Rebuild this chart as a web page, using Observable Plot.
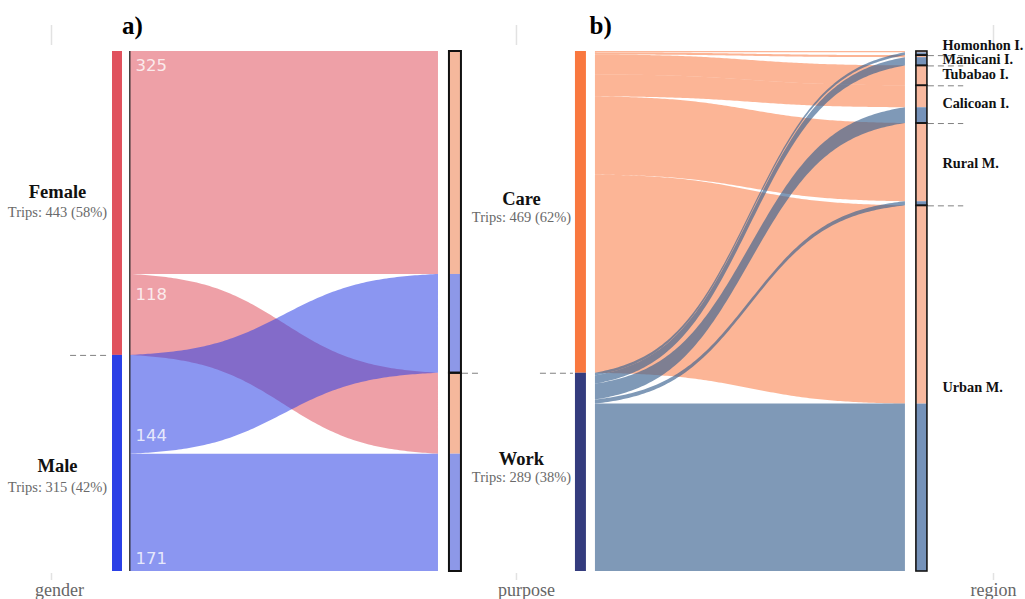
<!DOCTYPE html>
<html>
<head>
<meta charset="utf-8">
<script src="https://cdn.jsdelivr.net/npm/d3@7"></script>
<script src="https://cdn.jsdelivr.net/npm/@observablehq/plot@0.6"></script>
<style>
  html, body { margin: 0; padding: 0; background: #fff; }
  #chart svg { display: block; }
</style>
</head>
<body>
<div id="chart"></div>
<script>
// ---------------- DATA ----------------
const panelTitles = ["a)", "b)"];
const axisNames = ["gender", "purpose", "region"];
const genders = ["Female", "Male"];
const purposes = ["Care", "Work"];
const regions = ["Homonhon I.", "Manicani I.", "Tubabao I.", "Calicoan I.", "Rural M.", "Urban M."];
// trips by gender and purpose (Care, Work)
const femaleTrips = [325, 118];
const maleTrips = [144, 171];
// trips by purpose to each region
const careRegionTrips = [2, 3, 29, 32, 114, 289];
const workRegionTrips = [4, 12, 0, 23, 6, 244];

// ---------------- LAYOUT (stage units: gender axis = 0, purpose axis = 1) ----------------
const W = 1025, H = 599, MT = 51, MB = 28, ML = 51, MR = 32;
const stage = {gender: 0, purpose: 1, region: 2.026};
const L = {
  genderBar: [0.1312, 0.1527],
  edgeLineA: 0.1684,
  flowsA: [0.1699, 0.8323],
  purposeBarA: [0.8559, 0.8817],
  purposeBarB: [1.1269, 1.1505],
  flowsB: [1.1699, 1.8366],
  regionBar: [1.8602, 1.8839],
  genderLabelX: 0.0129,
  purposeLabelX: 1.0108,
  regionLabelX: 1.9161,
  flowNumX: 0.1806,
  titleX: [0.174, 1.181],
  axisNameX: [0.0172, 1.0215, 2.026]
};

function sankey(leftNames, rightNames, matrix) {
  let acc = 0;
  const left = leftNames.map((name, i) => {
    const total = d3.sum(matrix[i]);
    const n = {name, i, total, y0: acc, y1: acc + total};
    acc += total; return n;
  });
  acc = 0;
  const right = rightNames.map((name, j) => {
    const total = d3.sum(matrix, r => r[j]);
    const n = {name, j, total, y0: acc, y1: acc + total};
    acc += total; return n;
  });
  const lc = left.map(d => d.y0), rc = right.map(d => d.y0);
  const flows = [];
  matrix.forEach((row, i) => row.forEach((v, j) => {
    const f = {i, j, value: v, ly0: lc[i], ly1: lc[i] + v, ry0: rc[j], ry1: rc[j] + v};
    lc[i] += v; rc[j] += v;
    flows.push(f);
  }));
  return {left, right, flows, total: acc};
}

const k = 7.5;
const sig = t => 1 / (1 + Math.exp(-k * (t - 0.5)));
const ease = t => (sig(t) - sig(0)) / (sig(1) - sig(0));

function ribbons(flows, xa, xb, filter) {
  const pts = [];
  const N = 120;
  flows.filter(f => f.value > 0 && filter(f)).forEach(f => {
    for (let s = 0; s <= N; s++) {
      const t = s / N, e = ease(t);
      pts.push({
        id: `${f.i}-${f.j}`,
        x: xa + (xb - xa) * t,
        y1: f.ly0 + (f.ry0 - f.ly0) * e,
        y2: f.ly1 + (f.ry1 - f.ly1) * e
      });
    }
  });
  return pts;
}

const A = sankey(genders, purposes, [femaleTrips, maleTrips]);
const B = sankey(purposes, regions, [careRegionTrips, workRegionTrips]);
const grand = A.total;
const px = v => v * grand / (H - MT - MB); // pixel offset -> y units

const genderColors = ["#e0525e", "#2b40e6"];
const purposeSegColorsA = ["#f5b89c", "#8d98e8"];
const purposeColorsB = ["#f9783f", "#343c7e"];
const regionSegColors = ["#f8b99f", "#7592b9"];
const careFlow = "#f9783f", workFlow = "#3a6291";

const serif = "Liberation Serif, Times New Roman, serif";

const genderDy = [[-11, 9], [3, 24]];
const purposeDy = [[-13, 5], [-13, 5]];
const flowNumDy = [14, 20, -18, -13];

const pct = v => `Trips: ${v} (${Math.round(v / grand * 100)}%)`;

const span = (arr, xs, ya, yb, color) => arr.map((d, i) => ({x1: xs[0], x2: xs[1], y1: d[ya], y2: d[yb], color: color ? color(d, i) : null}));

const genderRects = span(A.left, L.genderBar, "y0", "y1", (d, i) => genderColors[i]);
const purposeSegA = span(A.flows, L.purposeBarA, "ry0", "ry1", d => purposeSegColorsA[d.i]);
const purposeBoxA = span(A.right, L.purposeBarA, "y0", "y1");
const purposeRectsB = span(B.left, L.purposeBarB, "y0", "y1", (d, i) => purposeColorsB[i]);
const regionSeg = span(B.flows.filter(f => f.value > 0), L.regionBar, "ry0", "ry1", d => regionSegColors[d.i]);
const regionBox = span(B.right, L.regionBar, "y0", "y1");

const dashes = [
  {y: A.left[0].y1, x1: 0.041, x2: 0.127},
  {y: A.right[0].y1, x1: 0.8839, x2: 0.9269},
  {y: B.left[0].y1, x1: 1.0516, x2: 1.1226},
  ...B.right.slice(0, -1).map(d => ({y: d.y1, x1: 1.886, x2: 1.962}))
];

const flowNums = A.flows.map((f, idx) => ({
  x: L.flowNumX, text: String(f.value), y: (f.i === 0 ? f.ly0 : f.ly1) + px(flowNumDy[idx])
}));

const mid = n => (n.y0 + n.y1) / 2;
const nodeHeads = [
  ...A.left.map((n, i) => ({x: L.genderLabelX, y: mid(n) + px(genderDy[i][0]), text: n.name})),
  ...B.left.map((n, i) => ({x: L.purposeLabelX, y: mid(n) + px(purposeDy[i][0]), text: n.name}))
];
const nodeSubs = [
  ...A.left.map((n, i) => ({x: L.genderLabelX, y: mid(n) + px(genderDy[i][1]), text: pct(n.total)})),
  ...B.left.map((n, i) => ({x: L.purposeLabelX, y: mid(n) + px(purposeDy[i][1]), text: pct(n.total)}))
];
const regionLabels = B.right.map((n, i) => ({x: L.regionLabelX, y: mid(n) + px(i === 0 ? -8 : -1), text: n.name}));
const titles = panelTitles.map((t, i) => ({x: L.titleX[i], text: t}));
const axisLabels = axisNames.map((t, i) => ({x: L.axisNameX[i], text: t}));
const tickXs = [stage.gender, stage.purpose, stage.region];
const ticksTop = tickXs.map(x => ({x, y1: px(-26), y2: px(-6)}));
const ticksBot = tickXs.map(x => ({x, y1: grand + px(2), y2: grand + px(9)}));
const edgeLine = [{x: L.edgeLineA, y1: 0, y2: grand}];

const plot = Plot.plot({
  width: W,
  height: H,
  marginLeft: ML,
  marginRight: MR,
  marginTop: MT,
  marginBottom: MB,
  x: {domain: [0, stage.region], axis: null},
  y: {domain: [0, grand], reverse: true, axis: null},
  color: {type: "identity"},
  style: {background: "#fff", overflow: "visible"},
  marks: [
    Plot.ruleX(ticksTop, {x: "x", y1: "y1", y2: "y2", stroke: "#e2e2e2", strokeWidth: 1.5}),
    Plot.ruleX(ticksBot, {x: "x", y1: "y1", y2: "y2", stroke: "#e2e2e2", strokeWidth: 1.5}),

    // panel a flows
    Plot.areaY(ribbons(A.flows, L.flowsA[0], L.flowsA[1], f => f.i === 0),
      {x: "x", y1: "y1", y2: "y2", z: "id", fill: genderColors[0], fillOpacity: 0.55, curve: "linear"}),
    Plot.areaY(ribbons(A.flows, L.flowsA[0], L.flowsA[1], f => f.i === 1),
      {x: "x", y1: "y1", y2: "y2", z: "id", fill: genderColors[1], fillOpacity: 0.55, curve: "linear"}),

    // panel b flows
    Plot.areaY(ribbons(B.flows, L.flowsB[0], L.flowsB[1], f => f.i === 0),
      {x: "x", y1: "y1", y2: "y2", z: "id", fill: careFlow, fillOpacity: 0.55, curve: "linear"}),
    Plot.areaY(ribbons(B.flows, L.flowsB[0], L.flowsB[1], f => f.i === 1),
      {x: "x", y1: "y1", y2: "y2", z: "id", fill: workFlow, fillOpacity: 0.65, curve: "linear"}),

    Plot.rect(genderRects, {x1: "x1", x2: "x2", y1: "y1", y2: "y2", fill: "color"}),
    Plot.ruleX(edgeLine, {x: "x", y1: "y1", y2: "y2", stroke: "#222", strokeWidth: 1.3}),

    Plot.rect(purposeSegA, {x1: "x1", x2: "x2", y1: "y1", y2: "y2", fill: "color"}),
    Plot.rect(purposeBoxA, {x1: "x1", x2: "x2", y1: "y1", y2: "y2", fill: "none", stroke: "#111", strokeWidth: 2}),

    Plot.rect(purposeRectsB, {x1: "x1", x2: "x2", y1: "y1", y2: "y2", fill: "color"}),

    Plot.rect(regionSeg, {x1: "x1", x2: "x2", y1: "y1", y2: "y2", fill: "color"}),
    Plot.rect(regionBox, {x1: "x1", x2: "x2", y1: "y1", y2: "y2", fill: "none", stroke: "#151515", strokeWidth: 1.6}),

    Plot.ruleY(dashes, {y: "y", x1: "x1", x2: "x2", stroke: "#808080", strokeDasharray: "6,4"}),

    Plot.text(flowNums, {x: "x", y: "y", text: "text", textAnchor: "start",
      fill: "white", fillOpacity: 0.8, fontSize: 16.5, fontFamily: "DejaVu Sans, sans-serif"}),

    Plot.text(nodeHeads, {x: "x", y: "y", text: "text", fontFamily: serif, fontWeight: "bold", fontSize: 18.5, fill: "#111"}),
    Plot.text(nodeSubs, {x: "x", y: "y", text: "text", fontFamily: serif, fontSize: 14.5, fill: "#6a6a6a"}),
    Plot.text(regionLabels, {x: "x", y: "y", text: "text", textAnchor: "start", fontFamily: serif, fontWeight: "bold", fontSize: 14.3, fill: "#111"}),

    Plot.text(titles, {x: "x", frameAnchor: "top", lineAnchor: "middle", dy: -26, text: "text", fontFamily: serif, fontWeight: "bold", fontSize: 25, fill: "#000"}),
    Plot.text(axisLabels, {x: "x", frameAnchor: "bottom", lineAnchor: "middle", dy: 19, text: "text", fontFamily: serif, fontSize: 18, fill: "#666"})
  ]
});

document.getElementById("chart").appendChild(plot);
</script>
</body>
</html>
